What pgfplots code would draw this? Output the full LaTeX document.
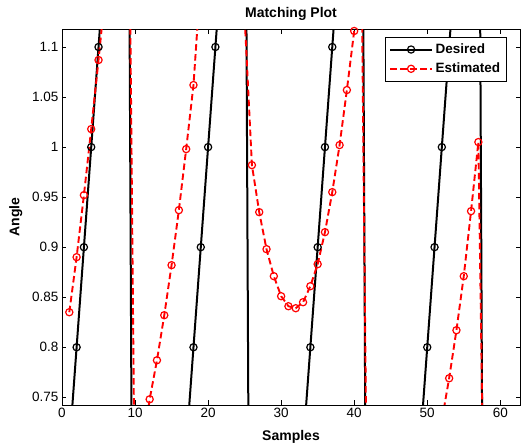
\documentclass[border=0pt]{standalone}
\usepackage{fontspec}
\setmainfont{Liberation Sans}
\usepackage{pgfplots}
\pgfplotsset{compat=1.18}
\newcommand{\tickfont}{\fontsize{13.5bp}{16bp}\selectfont}
\newcommand{\labfont}{\fontsize{14bp}{17bp}\selectfont\bfseries}
\begin{document}
\begin{tikzpicture}
\path[use as bounding box] (0bp,0bp) rectangle (522bp,448bp);
\begin{axis}[
  at={(62bp,43bp)}, anchor=south west,
  scale only axis, width=458bp, height=375.7bp,
  xmin=0, xmax=62.7, ymin=0.7423, ymax=1.1177,
  xtick={0,10,20,30,40,50,60},
  ytick={0.75,0.8,0.85,0.9,0.95,1,1.05,1.1},
  tick align=inside, major tick length=4.5bp,
  axis line style={line width=0.8bp},
  every tick/.style={black, line width=0.8bp},
  /pgf/number format/assume math mode=true,
  ticklabel style={font=\tickfont},
  title={Matching Plot},
  title style={at={(axis description cs:0.5,1.016)}, anchor=base, font=\labfont},
  xlabel={Samples},
  xlabel style={at={(axis description cs:0.5,-0.0950)}, anchor=base, font=\labfont},
  ylabel={Angle},
  ylabel style={font=\labfont},
  ylabel shift=3bp,
  legend image code/.code={\draw[mark repeat=2,mark phase=2,#1] plot coordinates {(0bp,0bp) (21bp,0bp) (42bp,0bp)};},
  legend style={at={(axis description cs:1,1)}, anchor=north east, xshift=-13bp, yshift=-7.7bp,
    draw=black, fill=white, line width=0.8bp, font=\fontsize{13.5bp}{16bp}\selectfont\bfseries,
    row sep=3bp, inner xsep=4bp, inner ysep=4bp, nodes={inner sep=2.5bp}},
  legend cell align=left,
]
\addplot[black, line width=2bp, mark=o, mark size=3.6bp, mark options={line width=1.2bp, solid}] coordinates {
(1,0.7) (2,0.8) (3,0.9) (4,1.0) (5,1.1) (6,1.2) (7,1.3) (8,1.4) (9,1.5)
(10,0.0) (11,0.1) (12,0.2) (13,0.3) (14,0.4) (15,0.5) (16,0.6) (17,0.7) (18,0.8) (19,0.9) (20,1.0)
(21,1.1) (22,1.2) (23,1.3) (24,1.4) (25,1.5)
(26,0.0) (27,0.1) (28,0.2) (29,0.3) (30,0.4) (31,0.5) (32,0.6) (33,0.7) (34,0.8) (35,0.9) (36,1.0)
(37,1.1) (38,1.2) (39,1.3) (40,1.4) (41,1.5)
(42,0.0) (43,0.1) (44,0.2) (45,0.3) (46,0.4) (47,0.5) (48,0.6) (49,0.7) (50,0.8) (51,0.9) (52,1.0)
(53,1.1) (54,1.2) (55,1.3) (56,1.4) (57,1.5)
(58,0.0) (59,0.1) (60,0.2)
};
\addlegendentry{Desired}
\addplot[red, line width=1.9bp, dash pattern=on 6.5bp off 3.5bp, mark=o, mark size=3.6bp, mark options={line width=1.2bp, solid}] coordinates {
(1,0.835) (2,0.890) (3,0.952) (4,1.018) (5,1.087) (6,1.16) (7,1.24) (8,1.32) (9,1.40)
(10,0.62) (11,0.70) (12,0.748) (13,0.787) (14,0.832) (15,0.882) (16,0.937) (17,0.998) (18,1.062)
(19,1.17) (20,1.25) (21,1.32) (22,1.38) (23,1.40) (24,1.30) (25,1.13)
(26,0.982) (27,0.935) (28,0.898) (29,0.871) (30,0.851) (31,0.841) (32,0.839) (33,0.845) (34,0.861)
(35,0.883) (36,0.915) (37,0.955) (38,1.002) (39,1.057) (40,1.116) (41,1.19)
(42,0.45) (43,0.47) (44,0.49) (45,0.52) (46,0.55) (47,0.58) (48,0.61) (49,0.64) (50,0.67) (51,0.70)
(52,0.727) (53,0.769) (54,0.817) (55,0.871) (56,0.936) (57,1.005)
(58,0.50) (59,0.55) (60,0.60)
};
\addlegendentry{Estimated}
\end{axis}
\end{tikzpicture}
\end{document}
